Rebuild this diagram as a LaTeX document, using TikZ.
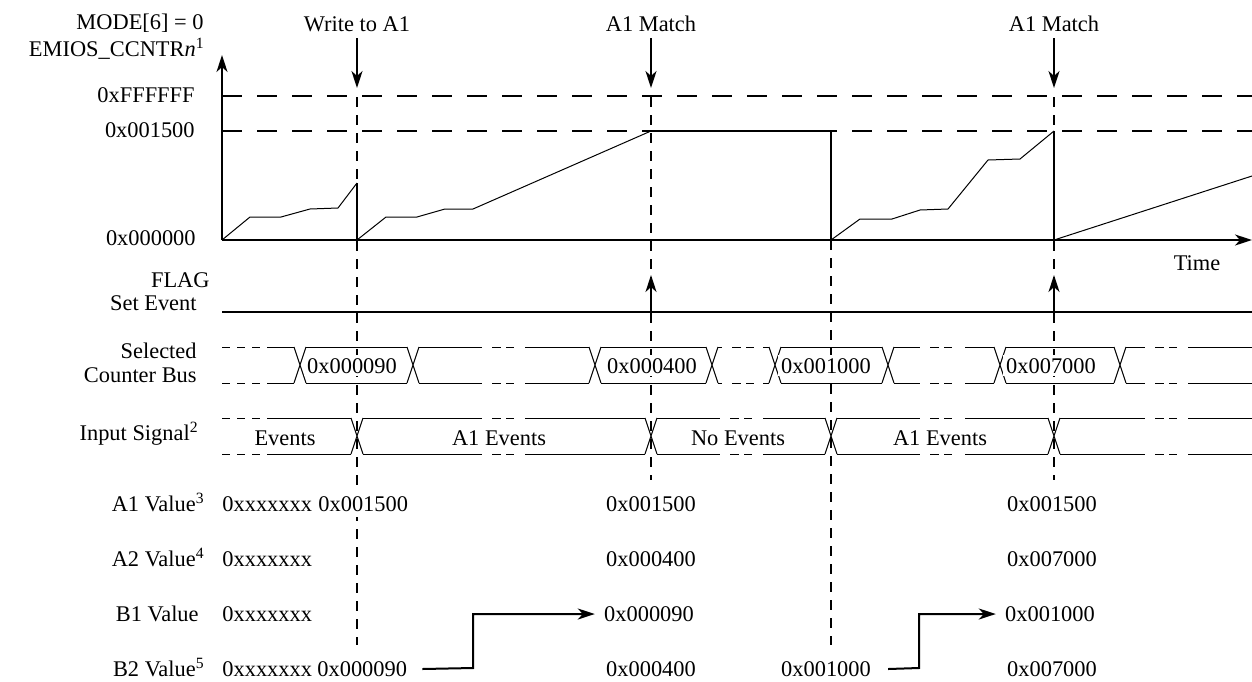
\documentclass[tikz,border=0pt]{standalone}
\usepackage{fontspec}
\setmainfont{Liberation Serif}
\usetikzlibrary{arrows.meta}

\begin{document}
\begin{tikzpicture}[x=0.5pt,y=-0.5pt,>={Stealth[length=8.5pt,width=5.5pt,inset=2.5pt]},
  font=\fontsize{11.2}{13}\selectfont,
  lbl/.style={anchor=base east,inner sep=0pt},
  val/.style={anchor=base,inner sep=1.5pt,fill=white},
  guide/.style={line width=1pt,dash pattern=on 5pt off 4pt},
  level/.style={line width=1pt,dash pattern=on 10pt off 7.5pt},
  wave/.style={line width=0.5pt},
  bold/.style={line width=1pt},
  lead/.style={line width=0.5pt,dash pattern=on 4pt off 3.5pt},
  gapdash/.style={line width=0.5pt,dash pattern=on 0pt off 5pt on 4.5pt off 2.5pt on 4pt off 5.5pt}]
\useasboundingbox (0,0) rectangle (1252,681);

% counter levels and event guides
\draw[level] (222,96) -- (1252,96);
\draw[level] (222,131) -- (1252,131);
\draw[guide] (357,97) -- (357,645);
\draw[guide] (651,97) -- (651,480);
\draw[guide] (831,240) -- (831,645);
\draw[guide] (1054,97) -- (1054,480);

% axes
\coordinate (origin) at (222,240);
\coordinate (yend) at (222,55);
\coordinate (xend) at (1252,240);
\draw[bold,->] (origin) -- (yend);
\draw[bold,->] (origin) -- (xend);
\node[anchor=base] (time) at (1197,270) {Time};

% counter value
\draw[wave] (222,240) -- (250,217) -- (281,217) -- (310,209) -- (338,208) -- (357,183);
\draw[bold] (357,183) -- (357,240);
\draw[wave] (357,240) -- (386,217) -- (417,217) -- (445,209) -- (473,209) -- (651,131);
\draw[bold] (651,131) -- (831,131) -- (831,240);
\draw[wave] (831,240) -- (860,219) -- (892,219) -- (920,210) -- (948,209) -- (988,160) -- (1020,159) -- (1054,131);
\draw[bold] (1054,131) -- (1054,240);
\draw[wave] (1054,240) -- (1252,176);

\node[lbl] (mode) at (204,29) {MODE[6] = 0};
\node[lbl] (ccntr) at (205,56) {EMIOS\_CCNTR\textit{n}\textsuperscript{1}};
\node[lbl] (lvlF) at (195,102) {0xFFFFFF};
\node[lbl] (lvlA) at (195,137) {0x001500};
\node[lbl] (lvlZ) at (196,245) {0x000000};

% events on top
\node[anchor=base] (wrA) at (357,31) {Write to A1};
\node[anchor=base] (matchA) at (651,31) {A1 Match};
\node[anchor=base] (matchB) at (1054,31) {A1 Match};
\coordinate (wrTip) at (357,88);
\coordinate (matchATip) at (651,88);
\coordinate (matchBTip) at (1054,88);
\draw[bold,->] (wrA.south) -- (wrTip);
\draw[bold,->] (matchA.south) -- (matchATip);
\draw[bold,->] (matchB.south) -- (matchBTip);

% FLAG set event
\node[lbl] (flag) at (210,287) {FLAG};
\node[lbl] (setev) at (197,310) {Set Event};
\draw[bold] (222,312) -- (1252,312);
\coordinate (flagA) at (651,312);
\coordinate (flagB) at (1054,312);
\draw[bold,->] (flagA) -- ++(0,-37);
\draw[bold,->] (flagB) -- ++(0,-37);

% selected counter bus
\node[lbl] (sel) at (197,358) {Selected};
\node[lbl] (cbus) at (197,382) {Counter Bus};
\draw[lead] (222,347) -- (267,347) (222,383) -- (267,383);
\foreach \a/\b in {267/294,306/407,419/482,525/589,601/706,718/722,763/769,781/882,894/920,965/994,1006/1114,1126/1145,1188/1252}
  \draw[wave] (\a,347) -- (\b,347) (\a,383) -- (\b,383);
\foreach \a/\b in {482/525,722/763,920/965,1145/1188}
  \draw[gapdash] (\a,347) -- (\b,347) (\a,383) -- (\b,383);
\foreach \x in {300,413,595,712,775,888,1000,1120}
  \draw[wave] (\x-6,347) -- (\x+6,383) (\x-6,383) -- (\x+6,347);
\node[val] (busA) at (352,373) {0x000090};
\node[val] (busB) at (652,373) {0x000400};
\node[val] (busC) at (826,373) {0x001000};
\node[val] (busD) at (1051,373) {0x007000};

% input signal
\node[lbl] (insig) at (199,440) {Input Signal\textsuperscript{2}};
\draw[lead] (222,418) -- (267,418) (222,454) -- (267,454);
\foreach \a/\b in {267/351,363/482,525/645,657/720,763/825,837/920,965/1048,1060/1145,1188/1252}
  \draw[wave] (\a,418) -- (\b,418) (\a,454) -- (\b,454);
\foreach \a/\b in {482/525,720/763,920/965,1145/1188}
  \draw[gapdash] (\a,418) -- (\b,418) (\a,454) -- (\b,454);
\foreach \x in {357,651,831,1054}
  \draw[wave] (\x-6,418) -- (\x+6,454) (\x-6,454) -- (\x+6,418);
\node[anchor=base] (evA) at (285,445) {Events};
\node[anchor=base] (evB) at (499,445) {A1 Events};
\node[anchor=base] (evC) at (738,445) {No Events};
\node[anchor=base] (evD) at (940,445) {A1 Events};

% register values
\node[lbl] (aOne) at (205,511) {A1 Value\textsuperscript{3}};
\node[lbl] (aTwo) at (205,566) {A2 Value\textsuperscript{4}};
\node[lbl] (bOne) at (199,621) {B1 Value};
\node[lbl] (bTwo) at (205,676) {B2 Value\textsuperscript{5}};

\node[val,anchor=base west,inner sep=0pt] (aOneX) at (222,511) {0xxxxxxx};
\node[val,anchor=base west,inner sep=3pt] (aOneW) at (312,511) {0x001500};
\node[val] (aOneM) at (651,511) {0x001500};
\node[val] (aOneR) at (1052,511) {0x001500};

\node[val,anchor=base west,inner sep=0pt] (aTwoX) at (222,566) {0xxxxxxx};
\node[val] (aTwoM) at (651,566) {0x000400};
\node[val] (aTwoR) at (1052,566) {0x007000};

\node[val,anchor=base west,inner sep=0pt] (bOneX) at (222,621) {0xxxxxxx};
\node[val] (bOneM) at (649,621) {0x000090};
\node[val] (bOneR) at (1050,621) {0x001000};

\node[val,anchor=base west,inner sep=0pt] (bTwoX) at (222,676) {0xxxxxxx};
\node[val,anchor=base west] (bTwoW) at (314,676) {0x000090};
\node[val] (bTwoM) at (651,676) {0x000400};
\node[val] (bTwoC) at (826,676) {0x001000};
\node[val] (bTwoR) at (1052,676) {0x007000};

\draw[bold,->,shorten >=3pt] ([xshift=6pt,yshift=3.5pt]bTwoW.base east) -- (473,668) |- ([yshift=3.5pt]bOneM.base west);
\draw[bold,->,shorten >=3pt] ([xshift=7pt,yshift=3.5pt]bTwoC.base east) -- (919,668) |- ([yshift=3.5pt]bOneR.base west);
\end{tikzpicture}
\end{document}
